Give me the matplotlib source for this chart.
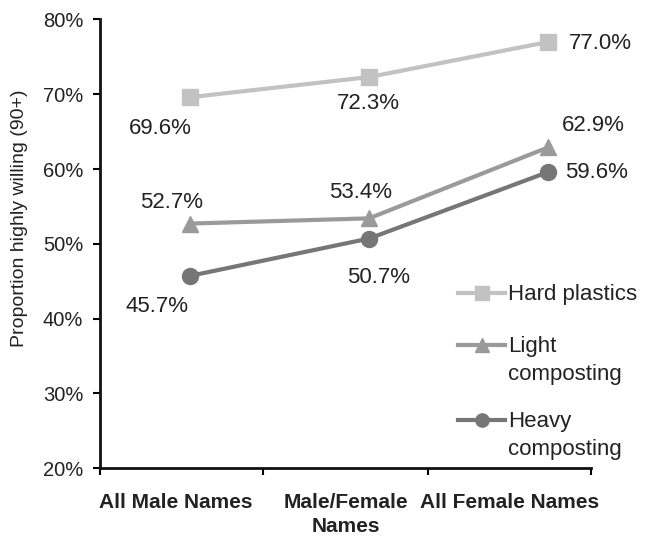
import matplotlib.pyplot as plt

plt.rcParams['font.family'] = ['Liberation Sans', 'DejaVu Sans']

# category labels along the x axis
categories = ['All Male Names', 'Male/Female\nNames', 'All Female Names']

# proportion highly willing (90+), in percent
hard_plastics = [69.6, 72.3, 77.0]
light_composting = [52.7, 53.4, 62.9]
heavy_composting = [45.7, 50.7, 59.6]

series_names = ['Hard plastics', 'Light\ncomposting', 'Heavy\ncomposting']
y_ticks = [20, 30, 40, 50, 60, 70, 80]

text_color = '#222222'
series = [
    (hard_plastics, series_names[0], '#c2c2c2', 's'),
    (light_composting, series_names[1], '#9a9a9a', '^'),
    (heavy_composting, series_names[2], '#767676', 'o'),
]

# value label offsets in pixels (dx, dy)
label_offsets = [
    [(-30, -31), (-1, -26), (52, -2)],
    [(-18, 21), (-9, 26), (45, 22)],
    [(-33, -31), (9, -39), (48, -1)],
]

fig = plt.figure(figsize=(6.49, 5.40), dpi=100)
ax = fig.add_axes([0.154, 0.1333, 0.757, 0.8306])

xs = list(range(len(categories)))
for (vals, name, color, marker), offs in zip(series, label_offsets):
    ax.plot(xs, vals, color=color, linewidth=3, marker=marker,
            markersize=11.5, label=name, zorder=3)
    for x, v, (dx, dy) in zip(xs, vals, offs):
        ax.annotate(f'{v:.1f}%', (x, v), xytext=(dx, dy),
                    textcoords='offset pixels', ha='center', va='center',
                    fontsize=16, color=text_color)

# hand-built legend so the marker sits beside the first line of each label
legend_rows = [0.390, 0.274, 0.107]
for (vals, name, color, marker), ly in zip(series, legend_rows):
    ax.plot([0.729, 0.825], [ly, ly], transform=ax.transAxes, color=color,
            linewidth=3, clip_on=False)
    ax.plot([0.777], [ly], transform=ax.transAxes, color=color,
            marker=marker, markersize=9.5, clip_on=False)
    ax.text(0.831, ly + 0.020, name, transform=ax.transAxes, va='top',
            ha='left', fontsize=16, color=text_color, linespacing=1.45)

# x layout: points sit right of the band centres
x_left, x_right = -0.503, 2.24
bounds = [x_left, 0.408, 1.330, x_right]
ax.set_xlim(x_left, x_right)
ax.set_xticks(bounds)
ax.set_xticklabels([])
centers = [(a + b) / 2 for a, b in zip(bounds[:-1], bounds[1:])]
centers[0] -= 0.03
ax.set_xticks(centers, minor=True)
ax.set_xticklabels(categories, minor=True, fontsize=15, fontweight='bold',
                   color=text_color, linespacing=1.35)
ax.tick_params(axis='x', which='minor', length=0, pad=18)
ax.tick_params(axis='x', which='major', length=5, width=1.5)

ax.set_ylim(20, 80)
ax.set_yticks(y_ticks)
ax.set_yticklabels([f'{t}%' for t in y_ticks], fontsize=14.5, color=text_color)
ax.tick_params(axis='y', length=5, width=1.5, pad=7)
ax.set_ylabel('Proportion highly willing (90+)', fontsize=14,
              color=text_color)
ax.yaxis.set_label_coords(-0.147, 0.557)

for side in ['top', 'right']:
    ax.spines[side].set_visible(False)
for side in ['left', 'bottom']:
    ax.spines[side].set_linewidth(2)
    ax.spines[side].set_color('#111111')

fig.savefig('out.png', dpi=100)
